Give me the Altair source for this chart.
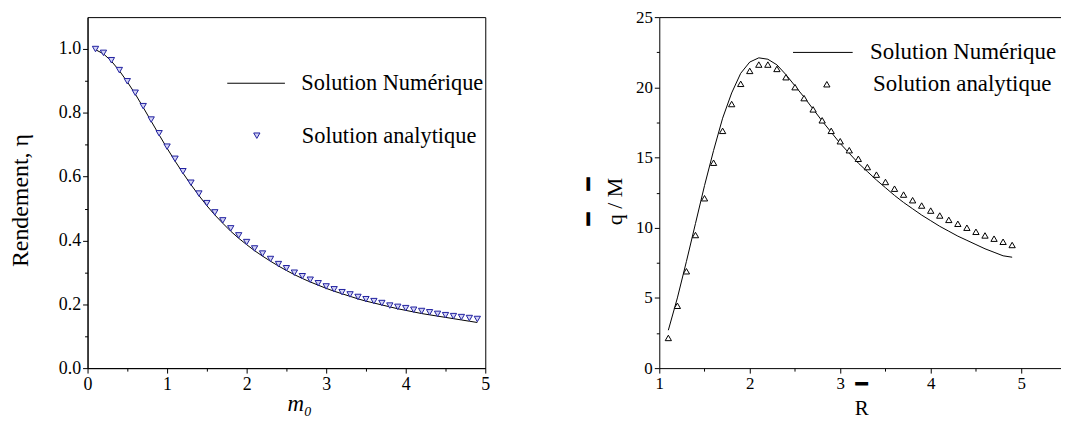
import altair as alt
import pandas as pd

# ---------------- data: left panel (efficiency) ----------------
m0 = [0.1, 0.2, 0.3, 0.4, 0.5, 0.6, 0.7, 0.8, 0.9, 1.0,
      1.1, 1.2, 1.3, 1.4, 1.5, 1.6, 1.7, 1.8, 1.9, 2.0,
      2.1, 2.2, 2.3, 2.4, 2.5, 2.6, 2.7, 2.8, 2.9, 3.0,
      3.1, 3.2, 3.3, 3.4, 3.5, 3.6, 3.7, 3.8, 3.9, 4.0,
      4.1, 4.2, 4.3, 4.4, 4.5, 4.6, 4.7, 4.8, 4.9]
eta_num = [0.998, 0.985, 0.962, 0.932, 0.897, 0.859, 0.817, 0.774, 0.731, 0.689,
           0.649, 0.611, 0.575, 0.541, 0.509, 0.480, 0.454, 0.429, 0.407, 0.387,
           0.368, 0.351, 0.335, 0.320, 0.306, 0.293, 0.281, 0.270, 0.260, 0.250,
           0.241, 0.233, 0.225, 0.217, 0.210, 0.204, 0.198, 0.192, 0.186, 0.181,
           0.176, 0.171, 0.167, 0.163, 0.159, 0.155, 0.151, 0.147, 0.143]
eta_ana = [1.000, 0.988, 0.965, 0.934, 0.899, 0.863, 0.821, 0.779, 0.736, 0.694,
           0.656, 0.617, 0.581, 0.547, 0.517, 0.488, 0.463, 0.438, 0.416, 0.395,
           0.375, 0.359, 0.342, 0.326, 0.313, 0.299, 0.288, 0.277, 0.266, 0.256,
           0.247, 0.238, 0.231, 0.223, 0.216, 0.210, 0.204, 0.196, 0.192, 0.188,
           0.183, 0.179, 0.175, 0.170, 0.166, 0.163, 0.160, 0.157, 0.154]

# ---------------- data: right panel (q/M vs R) ----------------
R = [1.1, 1.2, 1.3, 1.4, 1.5, 1.6, 1.7, 1.8, 1.9, 2.0,
     2.1, 2.2, 2.3, 2.4, 2.5, 2.6, 2.7, 2.8, 2.9, 3.0,
     3.1, 3.2, 3.3, 3.4, 3.5, 3.6, 3.7, 3.8, 3.9, 4.0,
     4.1, 4.2, 4.3, 4.4, 4.5, 4.6, 4.7, 4.8, 4.9]
qm_num = [2.7, 5.0, 7.6, 10.3, 13.0, 15.5, 17.8, 19.6, 21.0, 21.8,
          22.1, 22.0, 21.6, 20.9, 20.1, 19.3, 18.45, 17.6, 16.8, 16.0,
          15.3, 14.6, 14.0, 13.4, 12.85, 12.3, 11.8, 11.35, 10.9, 10.5,
          10.1, 9.75, 9.4, 9.1, 8.8, 8.5, 8.25, 8.0, 7.9]
qm_ana = [2.15, 4.44, 6.90, 9.48, 12.10, 14.63, 16.90, 18.81, 20.25, 21.17,
          21.62, 21.62, 21.31, 20.72, 20.01, 19.23, 18.43, 17.65, 16.90, 16.16,
          15.52, 14.91, 14.32, 13.78, 13.26, 12.78, 12.36, 11.96, 11.58, 11.22,
          10.87, 10.56, 10.28, 10.00, 9.71, 9.45, 9.22, 9.00, 8.77]

NUM = "Solution Numérique"
ANA = "Solution analytique"

left_x_major = [0, 1, 2, 3, 4, 5]
left_x_minor = [0.5, 1.5, 2.5, 3.5, 4.5]
left_y_major = [0.0, 0.2, 0.4, 0.6, 0.8, 1.0]
left_y_minor = [0.1, 0.3, 0.5, 0.7, 0.9]
right_x_major = [1, 2, 3, 4, 5]
right_x_minor = [1.5, 2.5, 3.5, 4.5]
right_y_major = [0, 5, 10, 15, 20, 25]
right_y_minor = [2.5, 7.5, 12.5, 17.5, 22.5]

SERIF = "Liberation Serif, Times New Roman, DejaVu Serif, serif"
NAVY = "#1f1f9f"
LIGHT = "#d4d4f4"
EMSP = "\u2003"

df_l_num = pd.DataFrame({"x": m0, "y": eta_num, "s": [NUM] * len(m0)})
df_l_ana = pd.DataFrame({"x": m0, "y": eta_ana, "s": [ANA] * len(m0)})
df_r_num = pd.DataFrame({"x": R, "y": qm_num, "s": [NUM] * len(R)})
df_r_ana = pd.DataFrame({"x": R, "y": qm_ana, "s": [ANA] * len(R)})


def major_axis(values, fmt, size, orient, title, **kw):
    return alt.Axis(values=values, format=fmt, orient=orient, grid=False,
                    domain=True, domainColor="black", domainWidth=1,
                    ticks=True, tickColor="black", tickSize=5, tickWidth=1,
                    labelFont=SERIF, labelFontSize=size, labelColor="black",
                    labelPadding=2, labelFlush=False, labelOverlap=False,
                    title=title, titleFont=SERIF, titleColor="black",
                    titleFontWeight="normal", **kw)


def minor_axis(values, orient):
    return alt.Axis(values=values, orient=orient, grid=False, domain=False,
                    labels=False, ticks=True, tickColor="black", tickSize=3,
                    tickWidth=1, title=None)


def line_legend(lx, ly, size, fs, off):
    return alt.Legend(title=None, orient="none", legendX=lx, legendY=ly,
                      symbolType="stroke", symbolSize=size, symbolStrokeWidth=1,
                      symbolStrokeColor="black",
                      labelFont=SERIF, labelFontSize=fs, labelColor="black",
                      labelOffset=off, padding=0, labelLimit=0)


def tri_legend(lx, ly, shape, fs, off):
    return alt.Legend(title=None, orient="none", legendX=lx, legendY=ly,
                      symbolType=shape, symbolSize=40, symbolStrokeWidth=1,
                      labelFont=SERIF, labelFontSize=fs, labelColor="black",
                      labelOffset=off, padding=0, labelLimit=0)


# ---------------- left panel ----------------
lx_scale = alt.Scale(domain=[0, 5], nice=False, zero=False)
ly_scale = alt.Scale(domain=[0, 1.1], nice=False, zero=False)

l_line = alt.Chart(df_l_num).mark_line(color="black", strokeWidth=1).encode(
    x=alt.X("x:Q", scale=lx_scale,
            axis=major_axis(left_x_major, "d", 18, "bottom", "m₀",
                            titleFontSize=23, titleFontStyle="italic",
                            titleX=213, titleY=43, titleBaseline="alphabetic")),
    y=alt.Y("y:Q", scale=ly_scale,
            axis=major_axis(left_y_major, ".1f", 18, "left", "Rendement,  η",
                            titleFontSize=24, titleX=-60, titleY=184,
                            titleAngle=270, titleBaseline="alphabetic")),
    color=alt.Color("s:N", scale=alt.Scale(domain=[NUM], range=["black"]),
                    legend=line_legend(140, 37, 3364, 22.5, 16)),
)

l_leg = tri_legend(159, 108, "triangle-down", 22.5, 34)
l_pts = alt.Chart(df_l_ana).mark_point(
    fill=LIGHT, fillOpacity=1, strokeWidth=1, size=40, opacity=1).encode(
    x=alt.X("x:Q", scale=lx_scale, axis=minor_axis(left_x_minor, "bottom")),
    y=alt.Y("y:Q", scale=ly_scale, axis=minor_axis(left_y_minor, "left")),
    shape=alt.Shape("s:N", scale=alt.Scale(domain=[ANA], range=["triangle-down"]),
                    legend=l_leg),
    stroke=alt.Stroke("s:N", scale=alt.Scale(domain=[ANA], range=[NAVY]),
                      legend=l_leg),
)

left = alt.layer(l_line, l_pts).resolve_axis(x="independent", y="independent").properties(
    width=400, height=353,
    view=alt.ViewBackground(stroke="black", strokeWidth=1),
)

# ---------------- right panel ----------------
rx_scale = alt.Scale(domain=[1, 5.44], nice=False, zero=False)
ry_scale = alt.Scale(domain=[0, 25], nice=False, zero=False)

r_line = alt.Chart(df_r_num).mark_line(color="black", strokeWidth=1).encode(
    x=alt.X("x:Q", scale=rx_scale,
            axis=major_axis(right_x_major, "d", 17, "bottom", ["━", "R"],
                            titleFontSize=21, titleLineHeight=24,
                            titleX=203, titleY=23, titleBaseline="alphabetic")),
    y=alt.Y("y:Q", scale=ry_scale,
            axis=major_axis(right_y_major, "d", 17, "left", ["━" + EMSP + "━", "q / M"],
                            titleFontSize=22, titleLineHeight=26,
                            titleX=-64, titleY=185, titleAngle=270,
                            titleBaseline="alphabetic")),
    color=alt.Color("s:N", scale=alt.Scale(domain=[NUM], range=["black"]),
                    legend=line_legend(134, 5, 3600, 23, 17)),
)

r_leg = tri_legend(157, 56, "triangle-up", 23, 35)
r_pts = alt.Chart(df_r_ana).mark_point(
    fill="white", fillOpacity=1, strokeWidth=1, size=40, opacity=1).encode(
    x=alt.X("x:Q", scale=rx_scale, axis=minor_axis(right_x_minor, "bottom")),
    y=alt.Y("y:Q", scale=ry_scale, axis=minor_axis(right_y_minor, "left")),
    shape=alt.Shape("s:N", scale=alt.Scale(domain=[ANA], range=["triangle-up"]),
                    legend=r_leg),
    stroke=alt.Stroke("s:N", scale=alt.Scale(domain=[ANA], range=["black"]),
                      legend=r_leg),
)

r_top = alt.Chart(df_r_num).mark_line(opacity=0).encode(
    x=alt.X("x:Q", scale=rx_scale,
            axis=alt.Axis(orient="top", domain=True, domainColor="black",
                          domainWidth=1, ticks=False, labels=False, grid=False,
                          title=None)),
    y=alt.Y("y:Q", scale=ry_scale, axis=None),
)

right = alt.layer(r_line, r_pts, r_top).resolve_axis(
    x="independent", y="independent").properties(width=404, height=353)

chart = alt.hconcat(left, right, spacing=88).resolve_scale(
    color="independent", shape="independent", stroke="independent"
).resolve_legend(color="independent", shape="independent", stroke="independent").properties(
    padding={"left": 0, "top": -1, "right": 0, "bottom": 0},
    background="white",
).configure_view(strokeWidth=0)

chart.save("out.html", embed_options={"renderer": "svg", "actions": False})
